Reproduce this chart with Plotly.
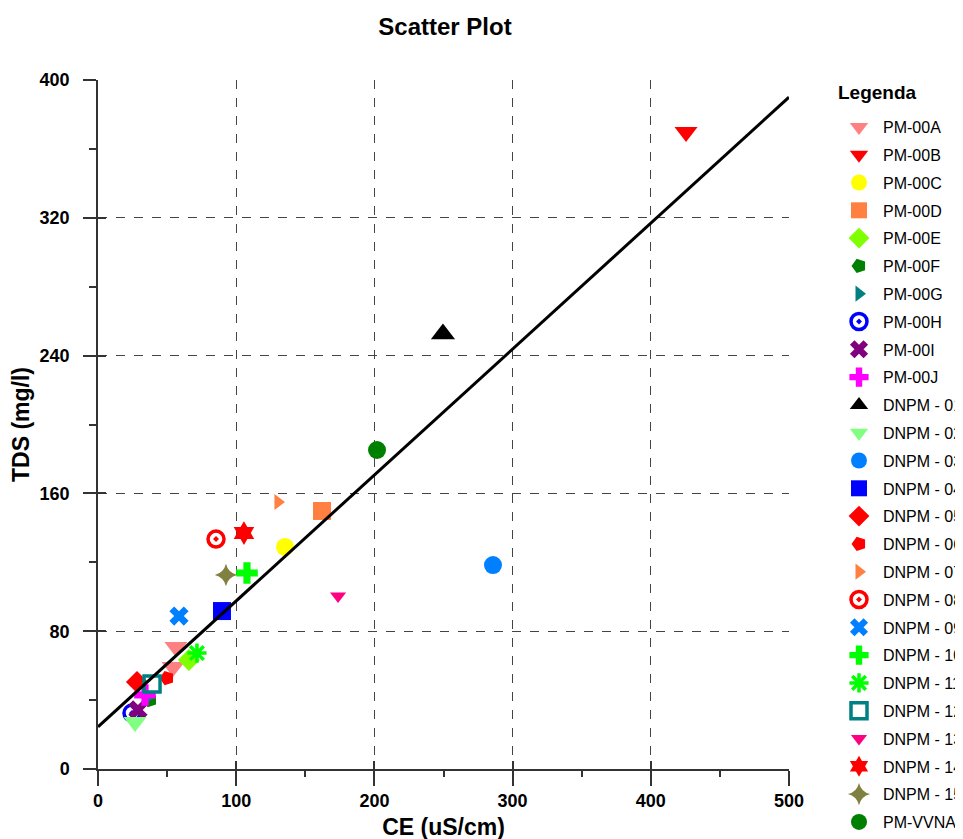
import plotly.graph_objects as go
import numpy as np

# ---- data ----
names = ["PM-00A", "PM-00B", "PM-00C", "PM-00D", "PM-00E", "PM-00F", "PM-00G", "PM-00H",
         "PM-00I", "PM-00J", "DNPM - 01", "DNPM - 02", "DNPM - 03", "DNPM - 04", "DNPM - 05",
         "DNPM - 06", "DNPM - 07", "DNPM - 08", "DNPM - 09", "DNPM - 10", "DNPM - 11",
         "DNPM - 12", "DNPM - 13", "DNPM - 14", "DNPM - 15", "PM-VVNA"]
ce_values = [[56.4, 54.3], [425.5], [135.3], [162.1], [65.8], [37.6], [36.5], [24.6],
             [28.9], [34.0], [249.6], [26.8], [285.8], [89.7], [28.2],
             [49.9], [130.2], [85.4], [58.6], [107.8], [71.6],
             [39.1], [173.7], [105.6], [92.6], [201.9]]
tds_values = [[70.8, 59.2], [369.8], [128.9], [149.8], [63.3], [40.0], [42.0], [32.5],
              [34.3], [43.0], [252.5], [27.3], [118.4], [91.7], [50.5],
              [52.8], [155.0], [133.5], [88.8], [113.8], [67.3],
              [49.3], [100.4], [137.0], [112.6], [185.2]]
colors = ["#FF8080", "#FF0000", "#FFFF00", "#FF8040", "#80FF00", "#008000", "#008080", "#0000FF",
          "#800080", "#FF00FF", "#000000", "#80FF80", "#0080FF", "#0000FF", "#FF0000",
          "#FF0000", "#FF8040", "#FF0000", "#0080FF", "#00FF00", "#00FF00",
          "#008080", "#FF0080", "#FF0000", "#808040", "#008000"]
symbols = ["triangle-down", "triangle-down", "circle", "square", "diamond", "pentagon", "triangle-right",
           "circle-open-dot", "x", "cross", "triangle-up", "triangle-down", "circle", "square",
           "diamond", "pentagon", "triangle-right", "circle-open-dot", "x", "cross", "asterisk-open",
           "square-open", "triangle-down", "hexagram", "star-diamond", "circle"]
angles = [0, 0, 0, 0, 0, -90, 0, 0, 0, 0, 0, 0, 0, 0, 0, -90, 0, 0, 0, 0, 0, 0, 0, 0, 0, 0]
sizes = [20, 20, 18, 18, 17, 15, 14, 16, 17, 18, 21, 20, 18, 18, 17, 15, 14, 16, 17, 18, 16,
         16, 14, 18, 16, 18]

fit_intercept = 24.5
fit_slope = 0.731
x_range = [0, 500]
y_range = [0, 400]

FONT = "Liberation Sans, Arial, sans-serif"

fig = go.Figure()
for i, n in enumerate(names):
    sym = symbols[i]
    is_line = sym.endswith("open") or sym.endswith("open-dot")
    fig.add_trace(go.Scatter(
        x=ce_values[i], y=tds_values[i], mode="markers", name=n, legendgroup=n,
        marker=dict(symbol=sym, size=sizes[i], color=colors[i], angle=angles[i],
                    line=dict(width=3.5 if is_line else 0, color=colors[i])),
    ))

fx = np.array(x_range, dtype=float)
fig.add_trace(go.Scatter(x=fx, y=fit_intercept + fit_slope * fx, mode="lines",
                         line=dict(color="black", width=3), showlegend=False, hoverinfo="skip"))

axis_common = dict(showline=True, linecolor="#333333", linewidth=1.5, zeroline=False,
                   showgrid=True, gridcolor="#444444", griddash="dash", gridwidth=1,
                   ticks="outside", tickcolor="#333333", tickwidth=1.5, automargin=False)

# plot area: 691 x 689 px
W = 963
L, T = 90, 72
fig.update_layout(
    width=W, height=839,
    margin=dict(l=L, r=W - L - 691, t=T, b=839 - T - 689, autoexpand=False),
    paper_bgcolor="white", plot_bgcolor="white",
    title=dict(text="Scatter Plot", x=437 / W, xanchor="center", y=1 - 19 / 839,
               yanchor="middle", font=dict(family=FONT, size=24, color="black", weight="bold")),
    xaxis=dict(range=x_range, dtick=100, ticklen=15,
               minor=dict(dtick=50, ticks="outside", ticklen=6, tickcolor="#333333", tickwidth=1.5, showgrid=False),
               tickfont=dict(family=FONT, size=18, color="black", weight="bold"),
               title=dict(text="CE (uS/cm)", standoff=9,
                          font=dict(family=FONT, size=23, color="black", weight="bold")),
               **axis_common),
    yaxis=dict(range=y_range, dtick=80, ticklen=13, ticklabelstandoff=10,
               minor=dict(dtick=40, ticks="outside", ticklen=7, tickcolor="#333333", tickwidth=1.5, showgrid=False),
               tickfont=dict(family=FONT, size=18, color="black", weight="bold"),
               title=dict(text="TDS (mg/l)", standoff=6,
                          font=dict(family=FONT, size=23, color="black", weight="bold")),
               **axis_common),
    xaxis2=dict(range=x_range, dtick=100, overlaying="x", anchor="y", side="bottom",
                ticks="inside", ticklen=8, tickcolor="#333333", tickwidth=1.5, automargin=False,
                showticklabels=False, showgrid=False, zeroline=False, showline=False),
    yaxis2=dict(range=y_range, dtick=80, overlaying="y", anchor="x", side="left",
                ticks="inside", ticklen=8, tickcolor="#333333", tickwidth=1.5, automargin=False,
                showticklabels=False, showgrid=False, zeroline=False, showline=False),
    legend=dict(x=(827 - L) / 691, xanchor="left", y=1 - 30 / 689, yanchor="top",
                font=dict(family=FONT, size=16, color="black"),
                tracegroupgap=4, itemsizing="trace", itemwidth=38, maxheight=839,
                bgcolor="rgba(0,0,0,0)"),
    annotations=[dict(text="Legenda", xref="paper", yref="paper", x=(828 - L) / 691, xanchor="left",
                      y=1 - 12 / 689, yanchor="middle", showarrow=False,
                      font=dict(family=FONT, size=19, color="black", weight="bold"))],
    showlegend=True,
)
# invisible trace to activate the overlay axes with inside ticks
fig.add_trace(go.Scatter(x=[None], y=[None], xaxis="x2", yaxis="y2", showlegend=False, hoverinfo="skip"))

fig.write_html("out.html")
